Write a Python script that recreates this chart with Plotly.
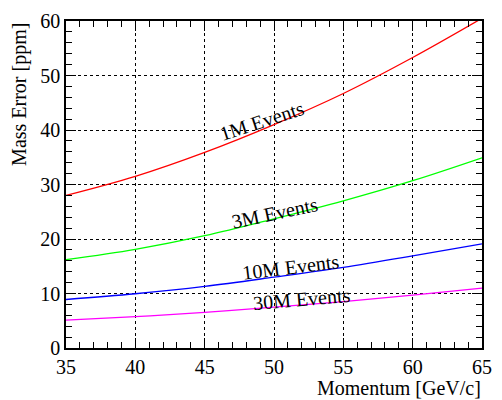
import plotly.graph_objects as go

momentum = [35, 40, 45, 50, 55, 60, 65]
err_1m = [28.0, 31.5, 35.9, 41.0, 46.7, 53.3, 60.5]
err_3m = [16.2, 18.1, 20.6, 23.7, 27.0, 30.7, 34.9]
err_10m = [8.9, 9.95, 11.3, 13.0, 14.8, 16.9, 19.1]
err_30m = [5.1, 5.75, 6.55, 7.5, 8.5, 9.7, 11.0]

series = [
    ("1M Events", err_1m, "#ff0000"),
    ("3M Events", err_3m, "#00ff00"),
    ("10M Events", err_10m, "#0000ff"),
    ("30M Events", err_30m, "#ff00ff"),
]
labels = [
    ("1M Events", 49.1, 41.7, -18),
    ("3M Events", 50.0, 24.85, -12),
    ("10M Events", 51.2, 14.9, -7),
    ("30M Events", 52.0, 9.05, -5),
]

FONT = "Liberation Serif"
fig = go.Figure()
for name, ys, col in series:
    fig.add_trace(go.Scatter(x=momentum, y=ys, mode="lines", name=name,
                             line=dict(color=col, width=1.3, shape="spline"),
                             showlegend=False))
for txt, lx, ly, ang in labels:
    fig.add_annotation(x=lx, y=ly, text=txt, showarrow=False, textangle=ang,
                       font=dict(family=FONT, size=20, color="black"))

axis_common = dict(
    showline=True, linecolor="black", linewidth=1.5, mirror="ticks",
    ticks="inside", ticklen=10, tickcolor="black", tickwidth=1,
    showgrid=True, gridcolor="black", griddash="dot", gridwidth=1,
    zeroline=False, tickfont=dict(family=FONT, size=20, color="black"),
)
fig.update_xaxes(range=[35, 65], dtick=5, tick0=35, ticklabelstandoff=0,
                 minor=dict(dtick=1, ticks="inside", ticklen=6, tickcolor="black", showgrid=False),
                 **axis_common)
fig.update_yaxes(range=[0, 60], dtick=10, tick0=0,
                 minor=dict(dtick=2, ticks="inside", ticklen=6, tickcolor="black", showgrid=False),
                 **axis_common)

fig.add_annotation(x=1, y=-0.122, xref="paper", yref="paper", xanchor="right", yanchor="middle",
                   text="Momentum [GeV/c]", showarrow=False, borderpad=0,
                   font=dict(family=FONT, size=20, color="black"))
fig.add_annotation(x=-0.112, y=1, xref="paper", yref="paper", xanchor="center", yanchor="top",
                   text="Mass Error [ppm]", showarrow=False, textangle=-90,
                   font=dict(family=FONT, size=20, color="black"))

fig.update_layout(width=502, height=400, margin=dict(l=66, r=14, t=10, b=52),
                  plot_bgcolor="white", paper_bgcolor="white")
fig.write_html("out.html")
